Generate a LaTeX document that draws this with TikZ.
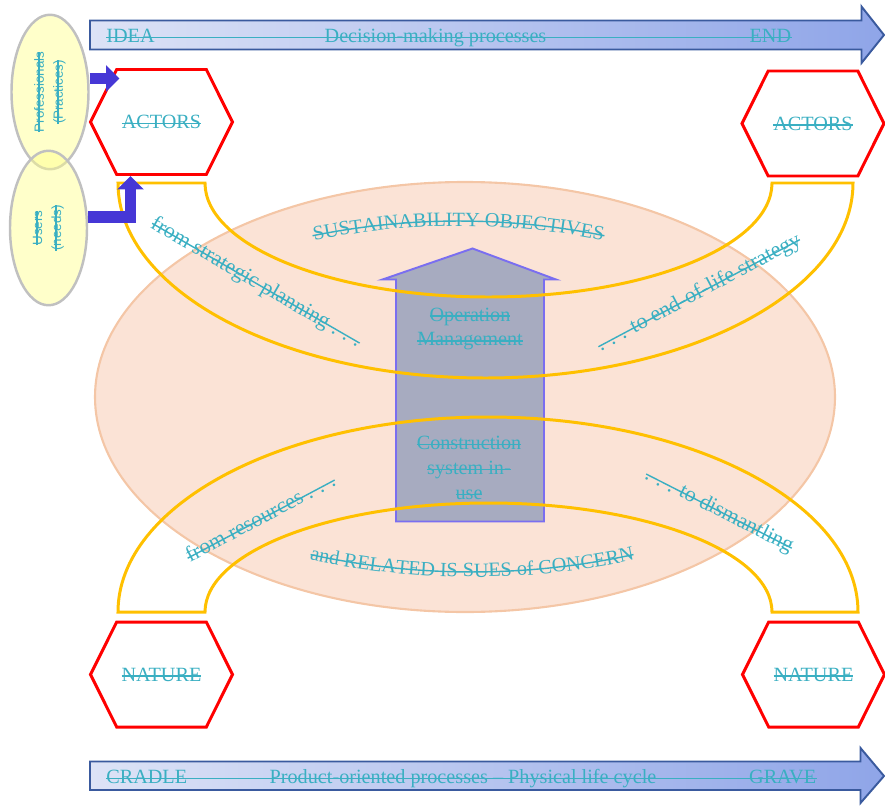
\documentclass[tikz,border=0pt]{standalone}
\usepackage{fontspec}
\setmainfont{Liberation Serif}
\newfontfamily\sansf{Liberation Sans}
\usepackage{tikz}
\usetikzlibrary{shapes.geometric, shapes.symbols, arrows.meta, decorations.text}
\definecolor{tealtext}{RGB}{58, 175, 194}
\definecolor{hexred}{RGB}{255, 0, 0}
\definecolor{bandyellow}{RGB}{255, 192, 0}
\definecolor{peach}{RGB}{251, 227, 214}
\definecolor{peachline}{RGB}{244, 198, 166}
\definecolor{boxgray}{RGB}{167, 171, 192}
\definecolor{boxline}{RGB}{122, 110, 240}
\definecolor{pushblue}{RGB}{70, 55, 214}
\definecolor{bubblefill}{RGB}{255, 255, 138}
\definecolor{bubblegray}{RGB}{192, 192, 192}
\definecolor{barleft}{RGB}{221, 227, 246}
\definecolor{barright}{RGB}{143, 165, 232}
\definecolor{barline}{RGB}{58, 90, 158}
\newcommand{\lblfont}{\fontsize{11.5}{14.2}\selectfont}
\newcommand{\slantfont}{\fontsize{12.4}{14.2}\selectfont}
\newcommand{\bubblefont}{\sansf\fontsize{7.6}{10.8}\selectfont}
% struck-through text
\newcommand{\strk}[1]{\leavevmode\setbox0\hbox{#1}\rlap{\raisebox{2.5pt}{\rule{\wd0}{0.8pt}}}\box0}

\begin{document}
\begin{tikzpicture}[
    hexa/.style={signal, signal to=west and east, signal pointer angle=127, draw=hexred, line width=1.7pt, fill=white, minimum width=2.84cm, minimum height=2.1cm, inner sep=0pt, font=\lblfont, text=tealtext},
    bubble/.style={ellipse, rotate=90, draw=bubblegray, line width=1.4pt, fill=bubblefill, fill opacity=0.45, text opacity=1, minimum width=3.09cm, minimum height=1.54cm, inner sep=0pt, align=center, font=\bubblefont, text=tealtext},
    fatarrow/.style={draw=pushblue, line width=0.23cm, -{Triangle[length=0.27cm, width=0.52cm]}},
    band/.style={draw=bandyellow, line width=1.7pt},
    lbl/.style={font=\lblfont, text=tealtext, align=center, inner sep=0pt},
    slant/.style={lbl, font=\slantfont},
    bar/.style={draw=barline, line width=1.1pt, left color=barleft, right color=barright},
    strikeline/.style={draw=tealtext, line width=0.8pt}
]
    \useasboundingbox (0,0) rectangle (17.7,16.18);

    % Background ellipse and central arrow
    \draw[draw=peachline, fill=peach, line width=1.2pt] (9.3,8.24) ellipse [x radius=7.4, y radius=4.3];
    \draw[draw=boxline, fill=boxgray, line width=1.1pt] (7.92,5.75) -- (7.92,10.59) -- (7.65,10.59) -- (9.45,11.21) -- (11.12,10.59) -- (10.88,10.59) -- (10.88,5.75) -- cycle;

    % Bands
    \draw[band] (2.36,12.52) arc[start angle=180, end angle=360, x radius=7.35, y radius=3.9] -- (15.44,12.52) arc[start angle=0, end angle=-180, x radius=5.67, y radius=2.28] -- cycle;
    \draw[band] (2.36,3.94) arc[start angle=180, end angle=0, x radius=7.4, y radius=3.9] -- (15.44,3.94) arc[start angle=0, end angle=180, x radius=5.67, y radius=2.18] -- cycle;

    % Curved labels
    \path[decorate, decoration={text along path, text align=center, text={|\lblfont\color{tealtext}|SUSTAINABILITY OBJECTIVES}}] ([shift={(102.5:14.54)}]9.17,-2.88) arc[start angle=102.5, end angle=77.5, radius=14.54];
    \draw[strikeline] ([shift={(101.5:14.64)}]9.17,-2.88) arc[start angle=101.5, end angle=78.5, radius=14.64];
    \path[decorate, decoration={text along path, text align=center, text={|\lblfont\color{tealtext}|and RELATED IS SUES of CONCERN}}] ([shift={(256:15.26)}]9.44,19.9) arc[start angle=256, end angle=284, radius=15.26];
    \draw[strikeline] ([shift={(257.7:15.16)}]9.44,19.9) arc[start angle=257.7, end angle=282.3, radius=15.16];

    % Slanted labels
    \node[slant, rotate=-30] (fsp) at (5.12,10.52) {\strk{from strategic planning . . .}};
    \node[slant, rotate=28] (teol) at (13.98,10.32) {\strk{. . . to end-of-life strategy}};
    \node[slant, rotate=28] (fres) at (5.2,5.84) {\strk{from resources . . .}};
    \node[slant, rotate=-27] (tdis) at (14.38,5.96) {\strk{. . . to dismantling}};

    % Central arrow labels
    \node[lbl] (opm) at (9.4,9.6) {\strk{Operation}\\\strk{Management}};
    \node[lbl] (csu) at (9.38,6.82) {\strk{Construction}\\\strk{system in-}\\\strk{use}};

    % Hexagons
    \node[hexa] (act1) at (3.23,13.74) {\strk{ACTORS}};
    \node[hexa] (act2) at (16.26,13.71) {\strk{ACTORS}};
    \node[hexa] (nat1) at (3.23,2.69) {\strk{NATURE}};
    \node[hexa] (nat2) at (16.27,2.69) {\strk{NATURE}};

    % Process bars
    \draw[bar] (1.8,15.77) -- (17.23,15.77) -- (17.23,16.05) -- (17.68,15.48) -- (17.23,14.92) -- (17.23,15.19) -- (1.8,15.19) -- cycle;
    \draw[bar] (1.8,0.95) -- (17.21,0.95) -- (17.21,1.22) -- (17.68,0.66) -- (17.21,0.12) -- (17.21,0.38) -- (1.8,0.38) -- cycle;
    \node[lbl, anchor=base west] (idea) at (2.12,15.33) {IDEA};
    \node[lbl, anchor=base] (dmp) at (8.71,15.33) {Decision-making processes};
    \node[lbl, anchor=base east] (endp) at (15.83,15.33) {END};
    \draw[strikeline] ([yshift=2.9pt]idea.base west) -- ([yshift=2.9pt]endp.base east);
    \node[lbl, anchor=base west] (cradle) at (2.12,0.51) {CRADLE};
    \node[lbl, anchor=base] (pop) at (9.26,0.51) {Product-oriented processes -- Physical life cycle};
    \node[lbl, anchor=base east] (grave) at (16.33,0.51) {GRAVE};
    \draw[strikeline] ([yshift=2.9pt]cradle.base west) -- ([yshift=2.9pt]grave.base east);

    % Stakeholders
    \node[bubble] (prof) at (1.0,14.34) {\strk{Professionals}\\\strk{(Practices)}};
    \node[bubble] (users) at (0.97,11.62) {\strk{Users}\\\strk{(needs)}};
    \draw[fatarrow] ([yshift=0.27cm]prof.south) -- ([xshift=-0.84cm,yshift=0.87cm]act1.center);
    \draw[fatarrow] ([yshift=0.22cm]users.south) -| ([xshift=-0.62cm]act1.south);
\end{tikzpicture}
\end{document}
